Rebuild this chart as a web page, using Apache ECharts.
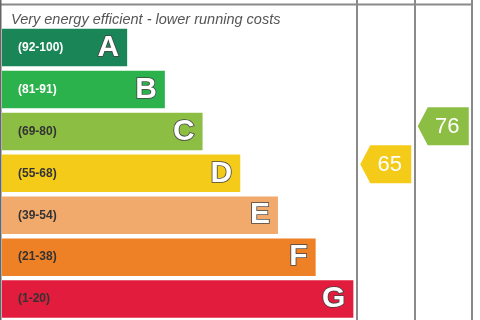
<!DOCTYPE html>
<html>
<head>
<meta charset="utf-8">
<script src="https://cdn.jsdelivr.net/npm/echarts@6/dist/echarts.min.js"></script>
<style>
  html, body { margin: 0; padding: 0; background: #fff; }
  #chart { width: 480px; height: 320px; }
</style>
</head>
<body>
<div id="chart"></div>
<script>
// bands, top (most efficient) to bottom
var bandLetters = ['A', 'B', 'C', 'D', 'E', 'F', 'G'];
var bandRanges = ['(92-100)', '(81-91)', '(69-80)', '(55-68)', '(39-54)', '(21-38)', '(1-20)'];
var bandLength = [1, 2, 3, 4, 5, 6, 7];   // each band a step longer
var bandColors = ['#1a8556', '#2cb24c', '#8cbe44', '#f5cb1a', '#f2a96c', '#ee8025', '#e11c3c'];
var rangeTextColors = ['#fff', '#fff', '#333', '#333', '#333', '#333', '#333'];

var columns = ['Current', 'Potential'];
var ratings = [65, 76];
var ratingColors = ['#f5cb1a', '#8cbe44'];

var barBase = 2.32; // shortest bar already has room for its label

var chart = echarts.init(document.getElementById('chart'));

var arrowPath = 'path://M0,19 L10,0 L51,0 L51,38 L10,38 Z';

var option = {
  animation: false,
  textStyle: { fontFamily: 'Liberation Sans, Arial, sans-serif' },
  title: {
    text: 'Very energy efficient - lower running costs',
    left: 6, top: 7,
    textStyle: { fontSize: 14.5, fontStyle: 'italic', fontWeight: 'normal', color: '#555' }
  },
  grid: [
    { left: 2, top: 26.6, width: 353.5, height: 296.1 },
    { left: 357, right: 8, top: 0, bottom: 0 }
  ],
  xAxis: [
    { gridIndex: 0, type: 'value', min: 0, max: 9.377, show: false },
    {
      gridIndex: 1, type: 'category', data: columns,
      axisLine: { show: false }, axisTick: { show: false }, axisLabel: { show: false },
      splitLine: { show: true, interval: 0, lineStyle: { color: '#8a8a8a', width: 2 } }
    }
  ],
  yAxis: [
    { gridIndex: 0, type: 'category', data: bandLetters, inverse: true, show: false },
    { gridIndex: 1, type: 'value', min: 20, max: 112.5, show: false }
  ],
  graphic: [
    { type: 'line', shape: { x1: 0, y1: 4.5, x2: 473, y2: 4.5 }, style: { stroke: '#8a8a8a', lineWidth: 2 } },
    { type: 'line', shape: { x1: 0.5, y1: 0, x2: 0.5, y2: 320 }, style: { stroke: '#666', lineWidth: 2 } }
  ],
  series: [
    {
      type: 'bar',
      xAxisIndex: 0, yAxisIndex: 0,
      barWidth: 37.5,
      data: bandLength.map(function (v, i) {
        return { value: v + barBase, itemStyle: { color: bandColors[i] } };
      }),
      label: {
        show: true,
        position: 'insideRight',
        distance: 8,
        formatter: function (p) { return bandLetters[p.dataIndex]; },
        fontSize: 30, fontWeight: 'bold', color: '#fff',
        textBorderColor: '#444', textBorderWidth: 1.6
      }
    },
    {
      type: 'bar',
      xAxisIndex: 0, yAxisIndex: 0,
      barWidth: 37.5, barGap: '-100%',
      data: bandLength.map(function (v, i) {
        return {
          value: v + barBase,
          label: { color: rangeTextColors[i] }
        };
      }),
      itemStyle: { color: 'rgba(0,0,0,0)' },
      label: {
        show: true,
        position: 'insideLeft',
        distance: 16,
        formatter: function (p) { return bandRanges[p.dataIndex]; },
        fontSize: 12, fontWeight: 'bold'
      }
    },
    {
      type: 'scatter',
      xAxisIndex: 1, yAxisIndex: 1,
      symbol: arrowPath,
      symbolSize: [51, 38],
      data: ratings.map(function (r, i) {
        return { value: [columns[i], r], itemStyle: { color: ratingColors[i], opacity: 1 } };
      }),
      label: {
        show: true,
        position: 'inside',
        offset: [4, 1],
        formatter: function (p) { return p.value[1]; },
        fontSize: 22, color: '#fff'
      }
    }
  ]
};

chart.setOption(option);
</script>
</body>
</html>
